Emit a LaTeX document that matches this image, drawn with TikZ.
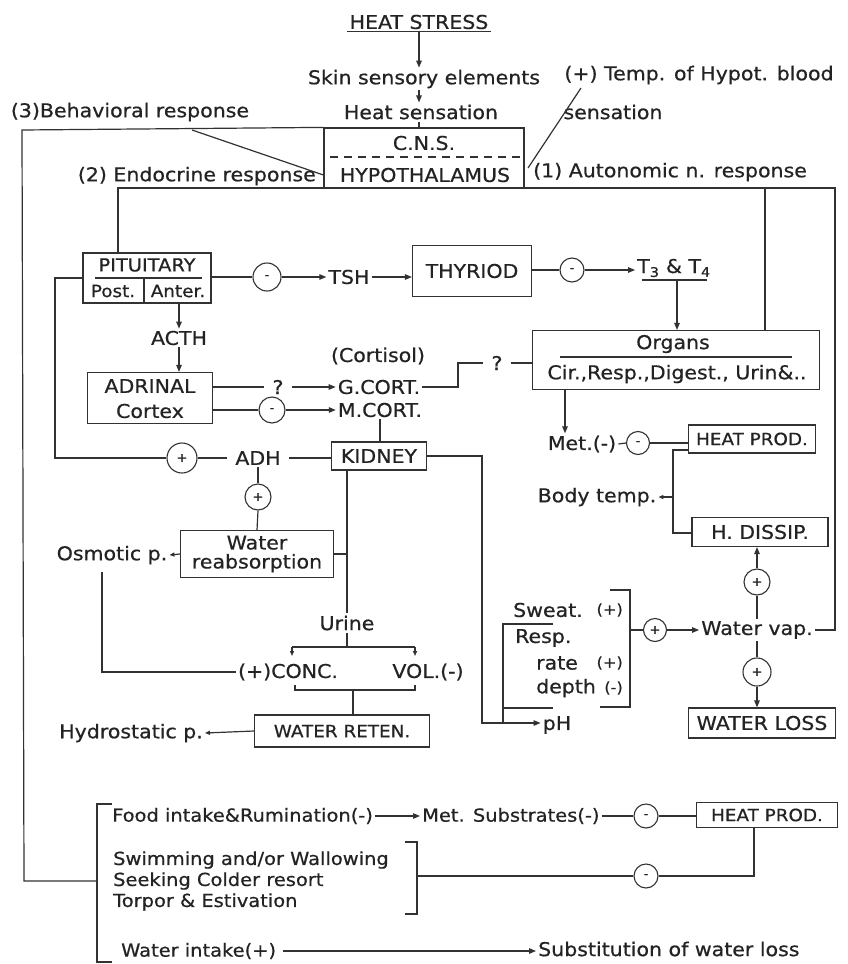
\documentclass[tikz,border=0pt]{standalone}
\usepackage{fontspec}
\setmainfont{DejaVu Sans}[FakeStretch=1.08,FakeBold=0.6]
\usetikzlibrary{arrows.meta}
\definecolor{ink}{RGB}{35,35,35}
\definecolor{ln}{RGB}{50,50,50}
\begin{document}
\begin{tikzpicture}[x=1pt,y=-1pt,
  every node/.style={font=\fontsize{19}{22}\selectfont, text=ink, inner sep=2pt},
  fa/.style={font=\fontsize{18}{21}\selectfont},
  fb/.style={font=\fontsize{17}{20}\selectfont},
  fc/.style={font=\fontsize{15}{18}\selectfont},
  bx/.style={draw=ln, line width=1.2pt, inner sep=0pt},
  cir/.style={draw=ln, line width=1.1pt, circle, minimum size=26pt, inner sep=0pt, font=\fontsize{12}{12}\selectfont},
  con/.style={draw=ln, line width=1.2pt},
  arr/.style={con, -{Triangle[length=7pt,width=5.5pt]}},
  sarr/.style={con, -{Triangle[length=5pt,width=4pt]}},
]
\fill[white] (0,0) rectangle (847,964);
\useasboundingbox (0,0) rectangle (847,964);

% ---------- top ----------
\node (hs) at (419,22) {HEAT STRESS};
\draw[con] (hs.south west) -- (hs.south east);
\node (skin) at (424,79) {Skin sensory elements};
\node (heat) at (421,112) {Heat sensation};
\node (temp) at (699,75) {(+) Temp. of Hypot. blood};
\node (sens) at (613,112) {sensation};
\node (beh) at (130,112) {(3)Behavioral response};

\node[bx, minimum width=200pt, minimum height=60pt] (cns) at (424,158) {};
\node (cnst) at (424,143) {C.N.S.};
\node (hyp) at (425,175) {HYPOTHALAMUS};
\coordinate (dl) at (330,157);
\coordinate (dr) at (524,157);
\draw[con, dash pattern=on 8pt off 6pt] (dl) -- (dr);

\node[anchor=east] (endo) at (318,176) {(2) Endocrine response};
\node[anchor=west] (auto) at (531,172) {(1) Autonomic n. response};

\draw[arr] (hs.south) -- (hs.south |- skin.north);
\draw[arr] (skin.south -| hs.south) -- (heat.north -| hs.south);
\draw[con] (heat.south -| hs.south) -- (cns.north -| hs.south);

\coordinate (tl) at (581,88);
\coordinate (tr) at (528,168);
\draw[con] (tl) -- (tr);

% behavioral loop
\coordinate (bl) at (22,130);
\coordinate (bb) at (24,881);
\coordinate (brk) at (97,881);
\coordinate (sl) at (192,130);
\draw[con] (cns.north west) -- (bl) -- (bb) -- (brk);
\draw[con] (sl) -- (hyp.west -| cns.west);

% main distribution line
\coordinate (ml) at (118,188);
\coordinate (mr) at (835,188);
\coordinate (mo) at (765,188);

% ---------- pituitary ----------
\node[bx, minimum width=128pt, minimum height=50pt] (pit) at (147,278) {};
\node[fa] (pitt) at (147,265) {PITUITARY};
\node[fb] (post) at (113,291) {Post.};
\node[fb] (anter) at (178,291) {Anter.};
\coordinate (pu1) at (95,278);
\coordinate (pu2) at (202,278);
\coordinate (pv1) at (144,279);
\coordinate (pv2) at (144,303);
\draw[con] (pu1) -- (pu2);
\draw[con] (pv1) -- (pv2);

\node[cir, minimum size=28pt] (c1) at (267,277) {-};
\draw[con] (c1.west -| pit.east) -- (c1.west);
\node (tsh) at (349,277) {TSH};
\draw[arr] (c1.east) -- (tsh.west);
\node[bx, minimum width=119pt, minimum height=51pt] (thy) at (472,271) {THYRIOD};
\draw[arr] (tsh.east) -- (tsh.east -| thy.west);
\node[cir, minimum size=24pt] (c2) at (572,270) {-};
\draw[con] (c2.west -| thy.east) -- (c2.west);
\node (t34) at (674,268) {T\textsubscript{3} \& T\textsubscript{4}};
\draw[arr] (c2.east) -- (c2.east -| t34.west);
\coordinate (tul) at (642,280);
\coordinate (tur) at (707,280);
\coordinate (tu) at (677,280);
\draw[con] (tul) -- (tur);

% ---------- organs ----------
\node[bx, minimum width=287pt, minimum height=59pt] (org) at (676,360) {};
\node (orgt) at (673,344) {Organs};
\coordinate (ol1) at (560,357);
\coordinate (ol2) at (792,357);
\draw[con] (ol1) -- (ol2);
\node (orgs) at (677,374) {Cir.,Resp.,Digest., Urin\&..};
\draw[arr] (tu) -- (tu |- org.north);

% ---------- ACTH / adrenal ----------
\node (acth) at (179,338) {ACTH};
\draw[arr] (acth |- pit.south) -- (acth.north);
\node[bx, minimum width=125pt, minimum height=51pt] (adr) at (150,398) {};
\node (adrt) at (150,386) {ADRINAL};
\node (cort) at (150,411) {Cortex};
\draw[arr] (acth.south) -- (acth.south |- adr.north);

\node[inner xsep=8pt] (q1) at (278,387) {?};
\draw[con] (adr.east |- q1) -- (q1.west);
\node (gc) at (379,387) {G.CORT.};
\draw[arr] (q1.east) -- (gc.west);
\node (cortl) at (378,356) {(Cortisol)};

\node[inner xsep=8pt] (q2) at (497,363) {?};
\coordinate (gs1) at (458,387);
\coordinate (gs2) at (458,363);
\draw[con] (gc.east) -- (gs1) -- (gs2) -- (q2.west);
\draw[con] (q2.east) -- (q2.east -| org.west);

\node[cir] (c3) at (272,410) {-};
\draw[con] (c3.west -| adr.east) -- (c3.west);
\node (mc) at (380,410) {M.CORT.};
\draw[arr] (c3.east) -- (mc.west);

% ---------- kidney ----------
\node[bx, minimum width=95pt, minimum height=28pt] (kid) at (379,456) {KIDNEY};
\draw[con] (mc.south) -- (mc.south |- kid.north);
\node[inner xsep=8pt] (adh) at (258,458) {ADH};
\draw[con] (kid.west |- adh.east) -- (adh.east);
\node[cir, minimum size=30pt] (c4) at (182,458) {+};
\draw[con] (adh.west) -- (c4.east);
\coordinate (lp1) at (55,458);
\draw[con] (c4.west) -- (lp1) -- (lp1 |- pit.west) -- (pit.west);

\node[cir] (c5) at (258,497) {+};
\draw[con] (adh.south) -- (c5.north);
\node[bx, minimum width=153pt, minimum height=47pt, align=center, font=\fontsize{19}{19}\selectfont] (wr) at (257,554) {Water\\reabsorption};
\draw[con] (c5.south) -- (wr.north);
\node (osm) at (112,555) {Osmotic p.};
\draw[sarr] (wr.west) -- (osm.east);

\node (urine) at (347,623) {Urine};
\draw[con] (urine.north |- kid.south) -- (urine.north);
\draw[con] (wr.east) -- (wr.east -| urine.north);
\coordinate (ub) at (347,647);
\coordinate (ubl) at (292,647);
\coordinate (ubr) at (415,647);
\draw[con] (urine.south) -- (ub);
\draw[con] (ubl) -- (ubr);
\draw[sarr] (ubl) -- ++(0,9);
\draw[sarr] (ubr) -- ++(0,9);
\node (conc) at (288,672) {(+)CONC.};
\node (vol) at (428,672) {VOL.(-)};

\coordinate (o1) at (102,572);
\draw[con] (o1) -- (o1 |- conc.west) -- (conc.west);

\coordinate (lb1) at (295,685);
\coordinate (lb2) at (295,690);
\coordinate (lb3) at (415,690);
\coordinate (lb4) at (415,685);
\coordinate (lb) at (353,690);
\draw[con] (lb1) -- (lb2) -- (lb3) -- (lb4);
\node[bx, minimum width=175pt, minimum height=32pt, fb] (wret) at (342,731) {WATER RETEN.};
\draw[con] (lb) -- (lb |- wret.north);
\node (hyd) at (131,733) {Hydrostatic p.};
\draw[sarr] (wret.west) -- (hyd.east);

% ---------- right column ----------
\node (met) at (582,444) {Met.(-)};
\coordinate (om) at (565,389);
\draw[arr] (om) -- (om |- met.north);
\node[cir, minimum size=23pt] (c6) at (638,443) {-};
\draw[con] (met.east) -- (c6.west);
\node[bx, minimum width=127pt, minimum height=28pt, fb] (hp1) at (752,439) {HEAT PROD.};
\draw[con] (c6.east) -- (c6.east -| hp1.west);
\node[bx, minimum width=136pt, minimum height=29pt] (hd) at (760,532) {H. DISSIP.};
\coordinate (bt1) at (673,450);
\coordinate (bt2) at (673,533);
\draw[con] (bt1 -| hp1.west) -- (bt1) -- (bt2) -- (bt2 -| hd.west);
\node (bt) at (597,497) {Body temp.};
\draw[sarr] (bt1 |- bt.east) -- (bt.east);

\node[cir] (c7) at (757,582) {+};
\draw[arr] (c7.north) -- (c7.north |- hd.south);
\node (wv) at (757,630) {Water vap.};
\draw[con] (wv.north -| c7.south) -- (c7.south);
\node[cir, minimum size=23pt] (c8) at (655,630) {+};
\draw[arr] (c8.east) -- (wv.west);
\coordinate (sbr) at (630,630);
\draw[con] (sbr) -- (c8.west);
\node[cir, minimum size=28pt] (c9) at (757,672) {+};
\draw[con] (wv.south -| c9.north) -- (c9.north);
\node[bx, minimum width=147pt, minimum height=30pt] (wl) at (762,723) {WATER LOSS};
\draw[arr] (c9.south) -- (c9.south |- wl.north);

% main distribution lines (after all nodes exist)
\draw[con] (pit.north -| ml) -- (ml) -- (mr) -- (mr |- wv.east) -- (wv.east);
\draw[con] (mo) -- (mo |- org.north);

% ---------- sweat / resp / pH ----------
\node (ph) at (557,725) {pH};
\coordinate (kr) at (482,456);
\coordinate (kb) at (482,723);
\draw[arr] (kid.east) -- (kr) -- (kb) -- (kb -| ph.west);

\coordinate (r1) at (553,624);
\coordinate (r2) at (503,624);
\coordinate (r3) at (503,723);
\coordinate (r4) at (503,708);
\coordinate (r5) at (553,708);
\draw[con] (r1) -- (r2) -- (r3);
\draw[con] (r4) -- (r5);
\coordinate (s1) at (610,590);
\coordinate (s2) at (630,590);
\coordinate (s3) at (630,707);
\coordinate (s4) at (600,707);
\draw[con] (s1) -- (s2) -- (s3) -- (s4);

\node[anchor=west] (sw) at (511,610) {Sweat.};
\node[anchor=east, fc] (swp) at (625,610) {(+)};
\node[anchor=west] (rs) at (513,638) {Resp.};
\node[anchor=west] (rt) at (534,663) {rate};
\node[anchor=east, fc] (rtp) at (625,663) {(+)};
\node[anchor=west] (dp) at (534,688) {depth};
\node[anchor=east, fc] (dpm) at (625,688) {(-)};

% ---------- behavioural block ----------
\coordinate (k1) at (112,804);
\coordinate (k2) at (97,804);
\coordinate (k3) at (97,962);
\coordinate (k4) at (112,962);
\draw[con] (k1) -- (k2) -- (k3) -- (k4);

\node[anchor=west, fa] (food) at (110,816) {Food intake\&Rumination(-)};
\node[anchor=west, fa] (ms) at (420,816) {Met. Substrates(-)};
\draw[arr] (food.east) -- (ms.west);
\node[cir, minimum size=24pt] (c10) at (646,816) {-};
\draw[con] (ms.east) -- (c10.west);
\node[bx, minimum width=141pt, minimum height=25pt, fb] (hp2) at (767,815) {HEAT PROD.};
\draw[con] (c10.east) -- (c10.east -| hp2.west);
\coordinate (hb) at (754,876);
\node[cir, minimum size=24pt] (c11) at (646,876) {-};
\draw[con] (hp2.south -| hb) -- (hb) -- (c11.east);
\coordinate (sbk) at (417,876);
\draw[con] (c11.west) -- (sbk);
\coordinate (w1) at (405,842);
\coordinate (w2) at (417,842);
\coordinate (w3) at (417,914);
\coordinate (w4) at (405,914);
\draw[con] (w1) -- (w2) -- (w3) -- (w4);

\node[anchor=west, fa] (swim) at (111,860) {Swimming and/or Wallowing};
\node[anchor=west, fa] (seek) at (111,881) {Seeking Colder resort};
\node[anchor=west, fa] (torp) at (111,902) {Torpor \& Estivation};
\node[anchor=west, fa, inner xsep=7pt] (wi) at (114,951) {Water intake(+)};
\node[anchor=west] (sub) at (536,949) {Substitution of water loss};
\draw[arr] (wi.east) -- (wi.east -| sub.west);
\end{tikzpicture}
\end{document}
